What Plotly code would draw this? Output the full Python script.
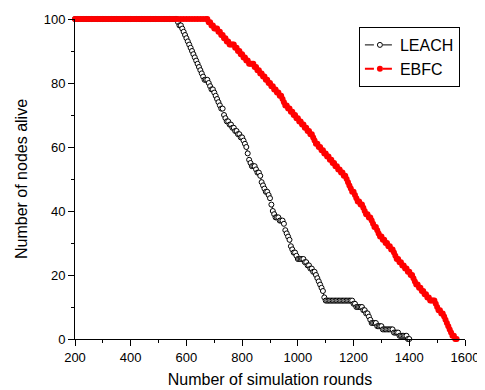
import plotly.graph_objects as go

# Sampled simulation rounds (every 10 rounds on the flat part, every 5 while nodes die)
leach_rounds = list(range(200, 560, 10)) + list(range(560, 1405, 5))
ebfc_rounds = list(range(200, 670, 10)) + list(range(670, 1575, 5))

# Number of nodes alive
leach_alive = [
    # 200 - 550 (step 10)
    100, 100, 100, 100, 100, 100, 100, 100, 100, 100,
    100, 100, 100, 100, 100, 100, 100, 100, 100, 100,
    100, 100, 100, 100, 100, 100, 100, 100, 100, 100,
    100, 100, 100, 100, 100, 100,
    # 560 - 1400 (step 5)
    100, 100, 99, 98, 98, 97, 96, 95, 94, 93,
    92, 91, 90, 89, 88, 87, 86, 85, 84, 83,
    82, 81, 81, 81, 80, 79, 78, 78, 77, 76,
    75, 74, 73, 72, 72, 70, 69, 68, 68, 67,
    67, 66, 66, 65, 65, 64, 64, 63, 63, 62,
    61, 60, 58, 56, 55, 54, 54, 54, 53, 52,
    52, 51, 49, 48, 47, 46, 46, 45, 44, 42,
    40, 39, 38, 38, 38, 37, 37, 37, 36, 34,
    33, 32, 31, 29, 28, 27, 27, 26, 25, 25,
    25, 25, 25, 24, 24, 23, 23, 22, 22, 21,
    21, 20, 19, 18, 17, 16, 15, 13, 12, 12,
    12, 12, 12, 12, 12, 12, 12, 12, 12, 12,
    12, 12, 12, 12, 12, 12, 12, 12, 11, 11,
    10, 10, 10, 10, 10, 9, 9, 8, 8, 7,
    6, 5, 5, 5, 5, 4, 4, 4, 4, 3,
    3, 3, 3, 3, 3, 3, 3, 2, 2, 2,
    2, 1, 1, 1, 1, 1, 1, 0, 0,
]
ebfc_alive = [
    # 200 - 660 (step 10)
    100, 100, 100, 100, 100, 100, 100, 100, 100, 100,
    100, 100, 100, 100, 100, 100, 100, 100, 100, 100,
    100, 100, 100, 100, 100, 100, 100, 100, 100, 100,
    100, 100, 100, 100, 100, 100, 100, 100, 100, 100,
    100, 100, 100, 100, 100, 100, 100,
    # 670 - 1570 (step 5)
    100, 100, 99, 99, 98, 98, 97, 97, 97, 96,
    96, 95, 95, 94, 94, 93, 93, 92, 92, 92,
    92, 91, 91, 90, 90, 89, 89, 88, 88, 87,
    87, 86, 86, 86, 86, 85, 85, 84, 84, 83,
    83, 82, 82, 81, 81, 80, 80, 79, 79, 78,
    78, 77, 77, 76, 76, 75, 74, 73, 73, 72,
    72, 71, 71, 70, 70, 69, 69, 68, 68, 67,
    67, 66, 66, 65, 65, 64, 64, 63, 62, 61,
    61, 60, 60, 59, 59, 58, 58, 57, 57, 56,
    56, 55, 55, 54, 54, 53, 53, 52, 52, 51,
    51, 50, 49, 48, 47, 46, 46, 45, 44, 43,
    43, 42, 42, 41, 40, 39, 39, 38, 38, 37,
    36, 35, 35, 34, 33, 32, 32, 31, 31, 30,
    30, 29, 29, 28, 28, 27, 26, 25, 25, 24,
    24, 23, 23, 22, 22, 21, 21, 20, 20, 19,
    18, 17, 17, 16, 16, 15, 15, 14, 14, 13,
    13, 12, 12, 12, 12, 11, 10, 9, 9, 8,
    8, 7, 6, 5, 4, 3, 2, 1, 1, 0,
    0,
]
assert len(leach_rounds) == len(leach_alive)
assert len(ebfc_rounds) == len(ebfc_alive)

x_ticks = [200, 400, 600, 800, 1000, 1200, 1400, 1600]
y_ticks = [0, 20, 40, 60, 80, 100]

FONT = "Liberation Sans, Arial, sans-serif"

fig = go.Figure()
fig.add_trace(go.Scatter(
    x=leach_rounds, y=leach_alive, name="LEACH", mode="lines+markers",
    line=dict(color="black", width=1, dash="dash"),
    marker=dict(symbol="circle", size=5, color="white",
                line=dict(color="black", width=1)),
    cliponaxis=False,
))
fig.add_trace(go.Scatter(
    x=ebfc_rounds, y=ebfc_alive, name="EBFC", mode="lines+markers",
    line=dict(color="#ff0000", width=2, dash="dash"),
    marker=dict(symbol="circle", size=6, color="#ff0000",
                line=dict(color="#ff0000", width=0)),
    cliponaxis=False,
))

axis_common = dict(
    showgrid=False, zeroline=False, showline=True, linecolor="black",
    linewidth=1, ticks="outside", ticklen=6, tickwidth=1, tickcolor="black",
    tickfont=dict(family=FONT, size=13, color="black"),
)

# page body has an 8px margin, so the figure is sized to fit the window
fig.update_layout(
    width=477, height=382,
    margin=dict(l=67, r=20, t=11, b=51),
    paper_bgcolor="white", plot_bgcolor="white",
    font=dict(family=FONT, color="black"),
    showlegend=True,
    legend=dict(
        x=0.728, y=0.975, xanchor="left", yanchor="top",
        bordercolor="black", borderwidth=1, bgcolor="white",
        font=dict(family=FONT, size=16, color="black"),
        tracegroupgap=0, itemwidth=30,
    ),
    xaxis=dict(
        range=[200, 1600], tickvals=x_ticks,
        minor=dict(ticks="outside", ticklen=3, dtick=100, tick0=200,
                   tickcolor="black", showgrid=False),
        title=dict(text="Number of simulation rounds", standoff=10,
                   font=dict(family=FONT, size=16, color="black")),
        automargin=False,
        **axis_common,
    ),
    yaxis=dict(
        range=[0, 100], tickvals=y_ticks,
        minor=dict(ticks="outside", ticklen=3, dtick=10, tick0=0,
                   tickcolor="black", showgrid=False),
        title=dict(text="Number of nodes alive", standoff=12,
                   font=dict(family=FONT, size=16, color="black")),
        automargin=False,
        **axis_common,
    ),
)

fig.write_html("out.html")
